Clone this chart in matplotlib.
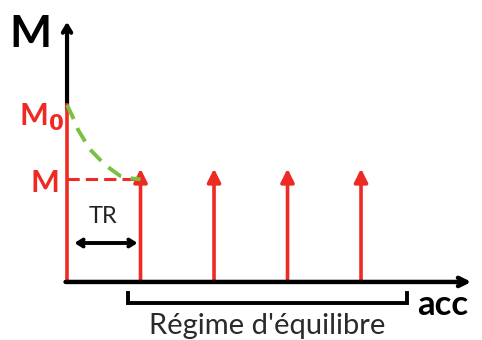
import matplotlib

matplotlib.use("Agg")
import matplotlib.pyplot as plt  # noqa: E402

plt.rcParams["font.family"] = ["Lato", "DejaVu Sans"]

# doses: position (acc index) and height of each arrow
dose_x = [0, 1, 2, 3, 4]
dose_h = [1.0, 0.6, 0.6, 0.6, 0.6]
m0_level = 1.0
m_level = 0.58

# green dashed decay
decay_x = [0.0, 0.08, 0.15, 0.31, 0.52, 0.72, 0.88, 1.0]
decay_y = [1.0, 0.93, 0.86, 0.75, 0.66, 0.60, 0.585, 0.58]

RED = "#ee2a24"
GREEN = "#7ac142"

fig = plt.figure(figsize=(4.82, 3.4), dpi=100)
ax = fig.add_axes([0, 0, 1, 1])
ax.set_xlim(-0.912, 5.646)
ax.set_ylim(-0.328, 1.593)
ax.axis("off")

# axes arrows (open chevron heads)
ax.annotate("", xy=(0, 1.47), xytext=(0, 0.98),
            arrowprops=dict(arrowstyle="->,head_length=0.5,head_width=0.3",
                            color="black", lw=3, shrinkA=0, shrinkB=0))
ax.annotate("", xy=(5.5, 0), xytext=(-0.02, 0),
            arrowprops=dict(arrowstyle="->,head_length=0.6,head_width=0.3",
                            color="black", lw=3.2, shrinkA=0, shrinkB=0), zorder=5)

# first dose (no head) then the repeated doses
ax.plot([dose_x[0], dose_x[0]], [0, dose_h[0]], color=RED, lw=2.6, zorder=4)
for x, h in zip(dose_x[1:], dose_h[1:]):
    ax.annotate("", xy=(x, h + 0.04), xytext=(x, 0),
                arrowprops=dict(arrowstyle="-|>,head_length=0.8,head_width=0.4",
                                color=RED, lw=2.6, shrinkA=0, shrinkB=0))

# M level dashed and decay curve
ax.plot([0, dose_x[1]], [m_level, m_level], color=RED, lw=2.2, ls=(0, (4, 2)))
ax.plot(decay_x, decay_y, color=GREEN, lw=2.8, ls=(0, (4, 2.5)), zorder=6)

# TR double arrow
ax.annotate("", xy=(0.1, 0.22), xytext=(0.96, 0.22),
            arrowprops=dict(arrowstyle="<->,head_length=0.4,head_width=0.25",
                            color="black", lw=2.8, shrinkA=0, shrinkB=0))
ax.text(0.49, 0.37, "TR", ha="center", va="center", fontsize=17, color="#222222")

# bracket for steady state
bx0, bx1, by = 0.83, 4.63, -0.12
ax.plot([bx0, bx0, bx1, bx1], [-0.065, by, by, -0.065], color="black", lw=2.8,
        solid_joinstyle="miter")
ax.text((bx0 + bx1) / 2, -0.25, "Régime d'équilibre", ha="center", va="center",
        fontsize=21, color="#2a2a2a")

# labels
ax.text(-0.78, 1.4, "M", ha="left", va="center", fontsize=32, fontweight="bold")
ax.text(4.76, -0.13, "acc", ha="left", va="center", fontsize=25, fontweight="bold")
ax.text(-0.04, 0.93, "M$_\\mathbf{0}$", ha="right", va="center", fontsize=22,
        fontweight="bold", color=RED)
ax.text(-0.10, 0.56, "M", ha="right", va="center", fontsize=22,
        fontweight="bold", color=RED)

fig.savefig("out.png", dpi=100)
